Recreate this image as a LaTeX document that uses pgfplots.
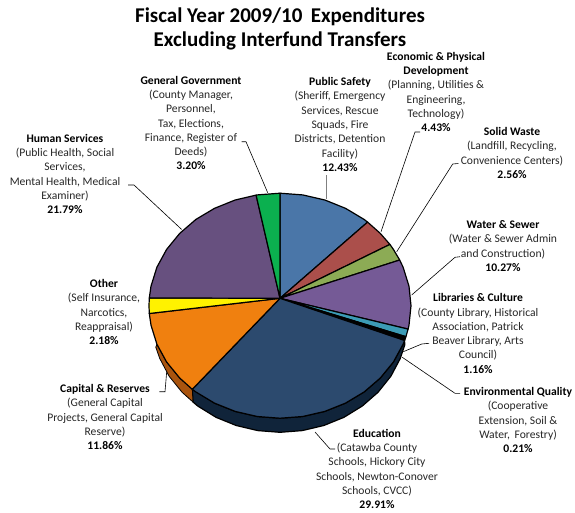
\documentclass[border=0pt]{standalone}
\usepackage{pgfplots}
\pgfplotsset{compat=1.18}
\usepackage{fontspec}
\setmainfont{Carlito}
\definecolor{cblue}{HTML}{4A76A8}
\definecolor{cred}{HTML}{AB4F4B}
\definecolor{cgreen}{HTML}{8CAB55}
\definecolor{cpurple}{HTML}{755A96}
\definecolor{cteal}{HTML}{3C9BB5}
\definecolor{cnavy}{HTML}{2C4A6E}
\definecolor{cnavyd}{HTML}{10243A}
\definecolor{corange}{HTML}{F0800F}
\definecolor{corangd}{HTML}{A9540E}
\definecolor{cdpurp}{HTML}{67507F}
\definecolor{cgov}{HTML}{0BB04F}
\definecolor{ctxt}{HTML}{262626}
\tikzset{
 lab/.style={align=center,text=ctxt,inner sep=0pt,font={\fontsize{11.6}{14.3}\selectfont}},
}
\newcommand{\hd}[1]{\textbf{\textcolor{black}{#1}}}
\begin{document}
\begin{tikzpicture}
\useasboundingbox (0,0) rectangle (575pt,512pt);
\begin{axis}[scale only axis,width=575pt,height=512pt,xmin=0,xmax=575,ymin=0,ymax=512,y dir=reverse,hide axis,clip=false,
  wedge/.style={draw=black,line width=1.2pt,line join=round,mark=none},
  lead/.style={draw=black,line width=0.6pt,mark=none}]
% sides
\addplot[wedge,fill=cnavyd] coordinates {(404.6,340.5)(403.1,344.2)(393.4,362.0)(380.3,378.0)(364.2,391.9)(345.5,403.1)(324.8,411.4)(302.7,416.5)(280,418.2)(257.3,416.5)(235.2,411.4)(214.5,403.1)(192.3,389.3)(193,402)(197.7,406)(216,417.3)(236.2,425.5)(257.8,430.6)(280,432.3)(302.2,430.6)(323.8,425.5)(344,417.3)(362.3,406)(378.1,392.2)(390.9,376.2)(400.3,358.4)(404.7,345)(404.6,340.5)};
\addplot[draw=black,line width=0.8pt,line join=round,mark=none,fill=corangd] coordinates {(192.3,389.3)(193,402)(182,392.2)(169.1,376.2)(159.7,358.4)(155.8,347.2)(156.9,344.2)(166.6,362.0)(179.7,378.0)(192.3,389.3)};
% faces
\addplot[wedge,fill=cblue] coordinates {(280,298.3)(280,193.2)(302.7,194.9)(324.8,200.0)(345.5,208.3)(364.2,219.5)(367.6,222.1)(280,298.3)};
\addplot[wedge,fill=cred] coordinates {(280,298.3)(367.6,222.1)(380.3,233.4)(389.9,244.4)(280,298.3)};
\addplot[wedge,fill=cgreen] coordinates {(280,298.3)(389.9,244.4)(393.4,249.4)(399.7,260)(280,298.3)};
\addplot[wedge,fill=cpurple] coordinates {(280,298.3)(399.7,260)(403.1,267.2)(409.0,286.2)(411,305.7)(409.0,325.2)(408.1,329.1)(280,298.3)};
\addplot[wedge,fill=cteal] coordinates {(280,298.3)(408.1,329.1)(405.9,336.7)(280,298.3)};
\addplot[wedge,fill=black] coordinates {(280,298.3)(405.9,336.7)(404.6,340.5)(280,298.3)};
\addplot[wedge,fill=cnavy] coordinates {(280,298.3)(404.6,340.5)(403.1,344.2)(393.4,362.0)(380.3,378.0)(364.2,391.9)(345.5,403.1)(324.8,411.4)(302.7,416.5)(280,418.2)(257.3,416.5)(235.2,411.4)(214.5,403.1)(195.8,391.9)(192.3,389.3)(280,298.3)};
\addplot[wedge,fill=corange] coordinates {(280,298.3)(192.3,389.3)(179.7,378.0)(166.6,362.0)(156.9,344.2)(151.0,325.2)(149.3,313.5)(280,298.3)};
\addplot[wedge,fill=yellow] coordinates {(280,298.3)(149.3,313.5)(149,305.7)(149.3,297.9)(280,298.3)};
\addplot[wedge,fill=cdpurp] coordinates {(280,298.3)(149.3,297.9)(151.0,286.2)(156.9,267.2)(166.6,249.4)(179.7,233.4)(195.8,219.5)(214.5,208.3)(235.2,200.0)(256.1,195.1)(280,298.3)};
\addplot[wedge,fill=cgov] coordinates {(280,298.3)(256.1,195.1)(257.3,194.9)(280,193.2)(280,298.3)};
% leaders
\addplot[lead] coordinates {(128,185)(134,185)(181.7,229.5)};
\addplot[lead] coordinates {(241.7,141.7)(246,141.7)(267.7,192.7)};
\addplot[draw=gray,line width=0.7pt,mark=none] coordinates {(326.7,175)(326.7,199.3)};
\addplot[lead] coordinates {(420,132)(415,132)(381,231.7)};
\addplot[lead] coordinates {(458.3,163.5)(452.7,164)(396.7,251.7)};
\addplot[lead] coordinates {(460,256.7)(455,257.3)(411.7,295)};
\addplot[lead] coordinates {(429,343.3)(421.7,344)(403.3,351.7)};
\addplot[lead] coordinates {(460,393.3)(455,393.3)(402.3,357.3)};
\addplot[lead] coordinates {(335,449)(330,449)(315,432)};
\addplot[lead] coordinates {(159.3,391.7)(165,391.7)(166.7,371.7)};
% text
\node[align=center,inner sep=0pt,font={\fontsize{21}{24}\selectfont\bfseries}] at (axis cs:280,29) {Fiscal Year 2009/10 \,Expenditures\\Excluding Interfund Transfers};
\node[lab] at (axis cs:65,174) {\hd{Human Services}\\(Public Health, Social\\Services,\\Mental Health, Medical\\Examiner)\\\hd{21.79\%}};
\node[lab] at (axis cs:191,123) {\hd{General Government}\\(County Manager,\\Personnel,\\Tax, Elections,\\Finance, Register of\\Deeds)\\\hd{3.20\%}};
\node[lab] at (axis cs:340,124.5) {\hd{Public Safety}\\(Sheriff, Emergency\\Services, Rescue\\Squads, Fire\\Districts, Detention\\Facility)\\\hd{12.43\%}};
\node[lab] at (axis cs:436,92) {\hd{Economic \& Physical}\\\hd{Development}\\(Planning, Utilities \&\\Engineering,\\Technology)\\\hd{4.43\%}};
\node[lab] at (axis cs:512,153) {\hd{Solid Waste}\\(Landfill, Recycling,\\Convenience Centers)\\\hd{2.56\%}};
\node[lab] at (axis cs:503,246) {\hd{Water \& Sewer}\\(Water \& Sewer Admin\\and Construction)\\\hd{10.27\%}};
\node[lab] at (axis cs:478,333.5) {\hd{Libraries \& Culture}\\(County Library, Historical\\Association, Patrick\\Beaver Library, Arts\\Council)\\\hd{1.16\%}};
\node[lab] at (axis cs:518,420) {\hd{Environmental Quality}\\(Cooperative\\Extension, Soil \&\\Water, \,Forestry)\\\hd{0.21\%}};
\node[lab] at (axis cs:377,469) {\hd{Education}\\(Catawba County\\Schools, Hickory City\\Schools, Newton-Conover\\Schools, CVCC)\\\hd{29.91\%}};
\node[lab] at (axis cs:104,312) {\hd{Other}\\(Self Insurance,\\Narcotics,\\Reappraisal)\\\hd{2.18\%}};
\node[lab] at (axis cs:105,417) {\hd{Capital \& Reserves}\\(General Capital\\Projects, General Capital\\Reserve)\\\hd{11.86\%}};
\end{axis}
\end{tikzpicture}
\end{document}
